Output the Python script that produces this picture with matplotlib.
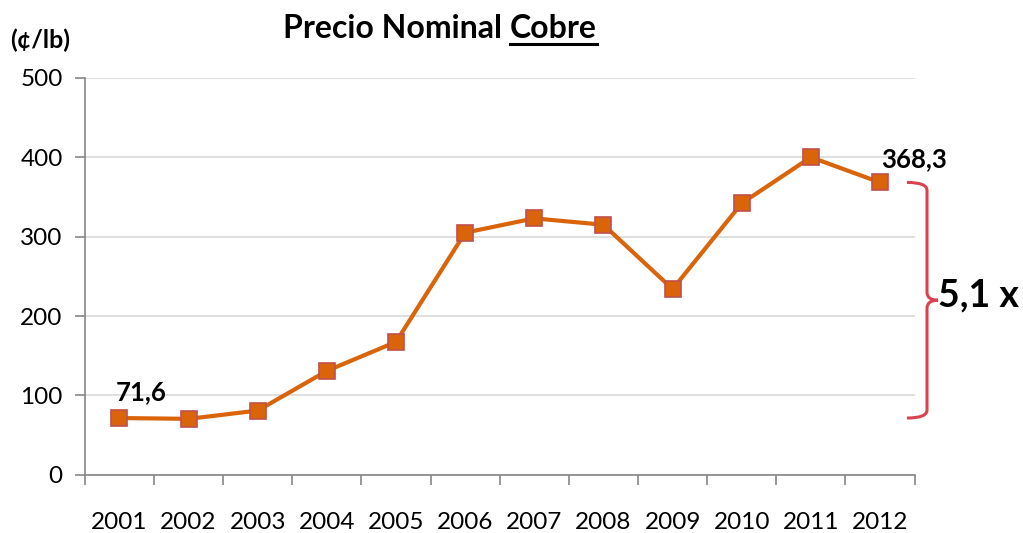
import matplotlib.pyplot as plt
from matplotlib.path import Path
from matplotlib.patches import PathPatch
import numpy as np

# data
years = ['2001', '2002', '2003', '2004', '2005', '2006',
         '2007', '2008', '2009', '2010', '2011', '2012']
price = [71.6, 70.6, 81.0, 131.0, 167.5, 305.0,
         323.0, 315.0, 234.0, 342.0, 400.0, 368.3]

plt.rcParams['font.family'] = ['Lato', 'DejaVu Sans']

fig = plt.figure(figsize=(10.23, 5.33), dpi=100)
ax = fig.add_axes([0.083, 0.109, 0.811, 0.745])

x = np.arange(len(years))
ax.plot(x, price, color='#d9640a', linewidth=3, marker='s', markersize=12,
        markerfacecolor='#d9640a', markeredgecolor='#c0504d', markeredgewidth=1.2,
        zorder=3)

ax.set_xlim(-0.5, len(years) - 0.5)
ax.set_ylim(0, 500)
ax.set_yticks([0, 100, 200, 300, 400, 500])
ax.grid(axis='y', color='#d9d9d9', linewidth=1.2)
ax.set_axisbelow(True)

ax.set_xticks(x)
ax.set_xticklabels(years, fontsize=17.5)
ax.set_xticks(np.arange(-0.5, len(years)), minor=True)
ax.tick_params(axis='x', which='major', length=0, pad=27)
ax.tick_params(axis='x', which='minor', length=7, width=1.2, color='#868686')
ax.tick_params(axis='y', length=7, width=1.2, color='#868686', labelsize=17.5, pad=9)

for s in ['top', 'right']:
    ax.spines[s].set_visible(False)
for s in ['left', 'bottom']:
    ax.spines[s].set_color('#868686')
    ax.spines[s].set_linewidth(1.2)

# value labels
ax.text(x[0] + 0.32, price[0] + 17, '71,6', fontsize=18.5, fontweight='bold',
        ha='center', va='bottom')
ax.text(x[-1] + 0.5, price[-1] + 14, '368,3', fontsize=18.5, fontweight='bold',
        ha='center', va='bottom')

# curly brace between first and last value
bx0, bxv, bx1 = 11.39, 11.68, 11.84
lo, hi = price[0], price[-1]
mid = (lo + hi) / 2
verts = [(bx0, hi), (bxv, hi), (bxv, hi - 10),
         (bxv, mid + 10), (bxv, mid), (bx1, mid),
         (bxv, mid), (bxv, mid - 10),
         (bxv, lo + 10), (bxv, lo), (bx0, lo)]
codes = [Path.MOVETO, Path.CURVE3, Path.CURVE3,
         Path.LINETO, Path.CURVE3, Path.CURVE3,
         Path.CURVE3, Path.CURVE3,
         Path.LINETO, Path.CURVE3, Path.CURVE3]
ax.add_patch(PathPatch(Path(verts, codes), facecolor='none', edgecolor='#d9434f',
                       linewidth=2.2, clip_on=False))
ax.text(11.84, mid + 6, '5,1 x', fontsize=27, fontweight='bold',
        ha='left', va='center')

# title with underlined last word
t1 = fig.text(0.277, 0.947, 'Precio Nominal ', fontsize=23, fontweight='bold',
              ha='left', va='center')
fig.canvas.draw()
bb = t1.get_window_extent()
x_next = bb.x1 / fig.bbox.width
t2 = fig.text(x_next, 0.947, 'Cobre', fontsize=23, fontweight='bold',
              ha='left', va='center')
fig.canvas.draw()
bb2 = t2.get_window_extent()
fig.add_artist(plt.Line2D([bb2.x0 / fig.bbox.width, bb2.x1 / fig.bbox.width],
                          [0.917, 0.917], color='black', linewidth=2.2))

fig.text(0.01, 0.925, '(¢/lb)', fontsize=18, fontweight='bold', ha='left', va='center')

fig.savefig('out.png', dpi=100)
